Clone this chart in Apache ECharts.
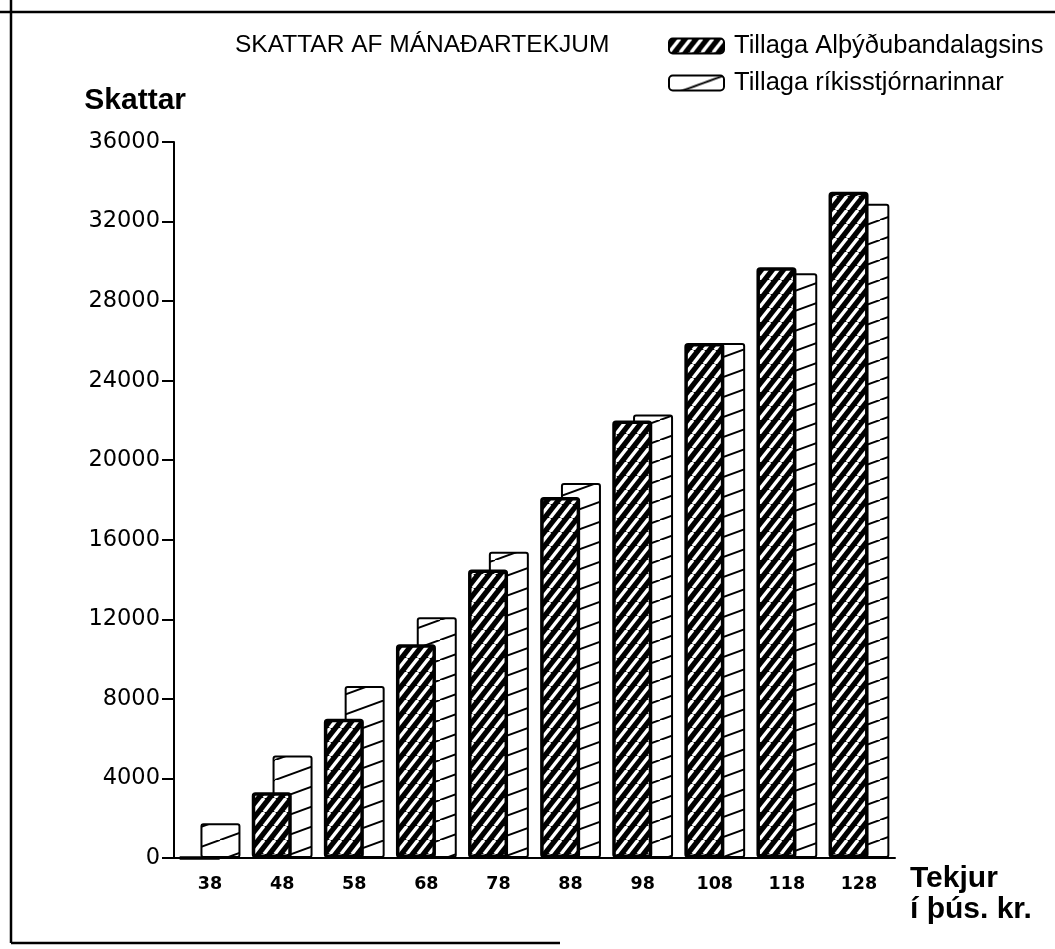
<!DOCTYPE html>
<html>
<head>
<meta charset="utf-8">
<script src="https://cdn.jsdelivr.net/npm/echarts@6/dist/echarts.min.js"></script>
<style>
  html, body { margin: 0; padding: 0; background: #fff; }
  #chart-container { width: 1055px; height: 949px; }
</style>
</head>
<body>
<div id="chart-container"></div>
<script>
var dom = document.getElementById('chart-container');
var myChart = echarts.init(dom, null, { renderer: 'canvas' });

// income brackets (thousand kr.)
var tekjur = ['38', '48', '58', '68', '78', '88', '98', '108', '118', '128'];
// tax, proposal of Alþýðubandalagið
var alþýðubandalag = [0, 3300, 7000, 10750, 14500, 18150, 22000, 25900, 29700, 33500];
// tax, proposal of the government
var rikisstjorn = [1750, 5150, 8650, 12100, 15400, 18850, 22300, 25900, 29400, 32900];

var yMax = 36000;
var yStep = 4000;

// dense hatch: black with white "/" stripes
function densePattern() {
    var c = document.createElement('canvas');
    var w = 11, h = 14;
    c.width = w; c.height = h;
    var ctx = c.getContext('2d');
    ctx.fillStyle = '#000';
    ctx.fillRect(0, 0, w, h);
    ctx.strokeStyle = '#fff';
    ctx.lineWidth = 3.4;
    [-w, 0, w].forEach(function (dx) {
        ctx.beginPath();
        ctx.moveTo(dx, h);
        ctx.lineTo(dx + w, 0);
        ctx.stroke();
    });
    return c;
}

// sparse hatch: white with thin black shallow lines
function sparsePattern() {
    var c = document.createElement('canvas');
    var w = 55, h = 20;
    c.width = w; c.height = h;
    var ctx = c.getContext('2d');
    ctx.fillStyle = '#fff';
    ctx.fillRect(0, 0, w, h);
    ctx.strokeStyle = '#000';
    ctx.lineWidth = 2;
    [-w, 0, w].forEach(function (dx) {
        ctx.beginPath();
        ctx.moveTo(dx, h);
        ctx.lineTo(dx + w, 0);
        ctx.stroke();
    });
    return c;
}

var option = {
    backgroundColor: '#fff',
    animation: false,
    title: {
        text: 'SKATTAR AF MÁNAÐARTEKJUM',
        left: 230,
        top: 28,
        textStyle: {
            fontFamily: 'Liberation Sans',
            fontSize: 24.5,
            fontWeight: 'normal',
            color: '#000'
        }
    },
    legend: {
        orient: 'vertical',
        left: 663,
        top: 28,
        itemWidth: 55,
        itemHeight: 15,
        itemGap: 11,
        textStyle: {
            fontFamily: 'Liberation Sans',
            fontSize: 25.5,
            color: '#000',
            padding: [0, 0, 0, 5]
        },
        data: ['Tillaga Alþýðubandalagsins', 'Tillaga ríkisstjórnarinnar']
    },
    grid: {
        left: 174,
        right: 160,
        top: 142,
        bottom: 91
    },
    xAxis: {
        type: 'category',
        data: tekjur,
        name: 'Tekjur\ní þús. kr.',
        nameLocation: 'end',
        nameGap: 15,
        nameTextStyle: {
            fontFamily: 'Liberation Sans',
            fontSize: 30,
            fontWeight: 'bold',
            color: '#000',
            lineHeight: 31,
            align: 'left',
            verticalAlign: 'top',
            padding: [5, 0, 0, 0]
        },
        axisLine: { lineStyle: { color: '#000', width: 2 } },
        axisTick: { length: 10, lineStyle: { color: '#000', width: 2 } },
        axisLabel: {
            margin: 17,
            fontFamily: 'DejaVu Sans',
            fontSize: 17.5,
            fontWeight: 'bold',
            color: '#000'
        },
        splitLine: { show: false }
    },
    yAxis: {
        type: 'value',
        min: 0,
        max: yMax,
        interval: yStep,
        name: 'Skattar',
        nameLocation: 'end',
        nameGap: 26,
        nameTextStyle: {
            fontFamily: 'Liberation Sans',
            fontSize: 30,
            fontWeight: 'bold',
            color: '#000',
            align: 'right',
            padding: [0, -12, 0, 0]
        },
        axisLine: { show: true, lineStyle: { color: '#000', width: 2 } },
        axisTick: { show: true, length: 12, lineStyle: { color: '#000', width: 2 } },
        axisLabel: {
            margin: 14,
            fontFamily: 'DejaVu Sans',
            fontSize: 22.5,
            color: '#000',
            formatter: function (v) { return String(v); }
        },
        splitLine: { show: false }
    },
    series: [
        {
            name: 'Tillaga Alþýðubandalagsins',
            type: 'bar',
            data: alþýðubandalag,
            z: 3,
            barWidth: 40,
            barGap: '-48%',
            itemStyle: {
                color: { image: densePattern(), repeat: 'repeat' },
                borderColor: '#000',
                borderWidth: 3.5,
                borderRadius: 2
            }
        },
        {
            name: 'Tillaga ríkisstjórnarinnar',
            type: 'bar',
            data: rikisstjorn,
            z: 2,
            barWidth: 40,
            itemStyle: {
                color: { image: sparsePattern(), repeat: 'repeat' },
                borderColor: '#000',
                borderWidth: 2,
                borderRadius: 2
            }
        }
    ],
    graphic: [
        { type: 'line', shape: { x1: 0, y1: 12, x2: 1055, y2: 12 }, style: { stroke: '#000', lineWidth: 2.5 } },
        { type: 'line', shape: { x1: 11, y1: 0, x2: 11, y2: 943 }, style: { stroke: '#000', lineWidth: 2.5 } },
        { type: 'line', shape: { x1: 11, y1: 943, x2: 560, y2: 943 }, style: { stroke: '#000', lineWidth: 2.5 } }
    ]
};

myChart.setOption(option);
window.addEventListener('resize', myChart.resize);
</script>
</body>
</html>
